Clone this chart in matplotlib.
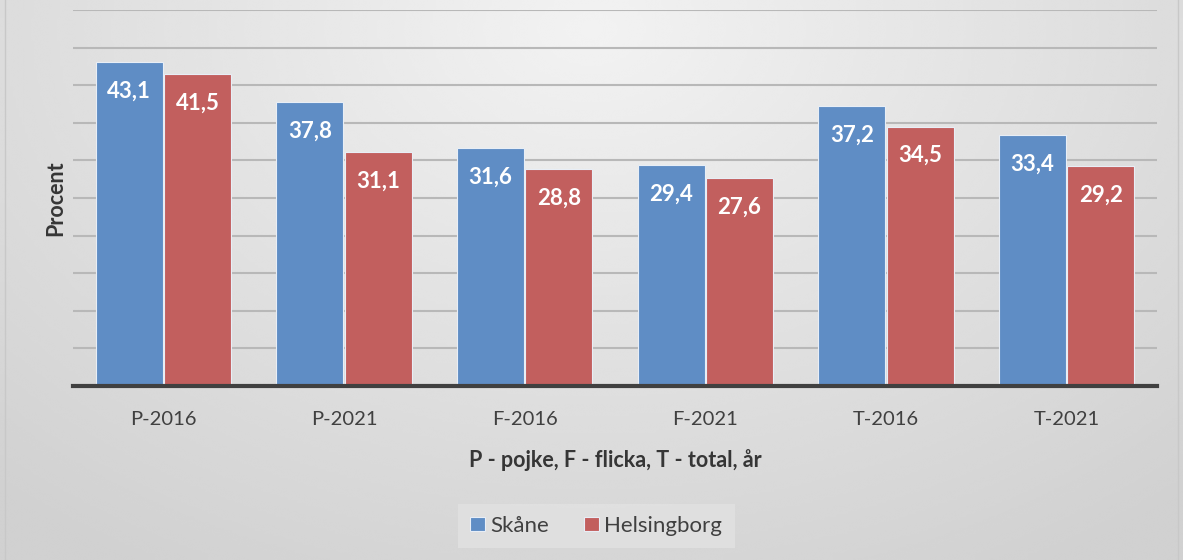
import numpy as np
import matplotlib.pyplot as plt
from matplotlib.patches import Rectangle

categories = ['P-2016', 'P-2021', 'F-2016', 'F-2021', 'T-2016', 'T-2021']
skane = [43.1, 37.8, 31.6, 29.4, 37.2, 33.4]
helsingborg = [41.5, 31.1, 28.8, 27.6, 34.5, 29.2]
series_names = ['Skåne', 'Helsingborg']

plt.rcParams['font.family'] = ['Lato', 'DejaVu Sans']

fig = plt.figure(figsize=(11.83, 5.6), dpi=100)

# gradient background (light centre top, darker edges)
bg = fig.add_axes([0, 0, 1, 1], zorder=-10)
yy, xx = np.mgrid[0:1:200j, 0:1:400j]
dist = np.sqrt(((xx - 0.5) / 0.75) ** 2 + ((yy - 0.05) / 1.1) ** 2)
shade = 0.95 - 0.13 * np.clip(dist, 0, 1)
bg.imshow(shade, cmap='gray', vmin=0, vmax=1, aspect='auto',
          extent=[0, 1, 1, 0], interpolation='bicubic')
bg.add_patch(Rectangle((0.004, -0.01), 0.992, 1.02, fill=False,
                       edgecolor='#c8c8c8', linewidth=1))
bg.set_xlim(0, 1)
bg.set_ylim(1, 0)
bg.axis('off')

ax = fig.add_axes([0.0617, 0.3107, 0.9163, 0.6713])
ax.patch.set_alpha(0)

x = np.arange(len(categories))
w = 0.372
colors = ['#5f8dc5', '#c25f5e']
for i, (vals, name) in enumerate(zip([skane, helsingborg], series_names)):
    pos = x + (i - 0.5) * (w + 0.006)
    bars = ax.bar(pos, vals, width=w, color=colors[i], edgecolor='#e8eef6',
                  linewidth=0.8, label=name, zorder=3)
    for b, v in zip(bars, vals):
        ax.annotate(f'{v:.1f}'.replace('.', ','),
                    (b.get_x() + b.get_width() / 2, v),
                    xytext=(0, -29), textcoords='offset pixels',
                    ha='center', va='center', color='white',
                    fontsize=16, fontweight='bold', zorder=4)

ax.set_xlim(-0.5, len(categories) - 0.5)
ax.set_ylim(0, 50)
ax.set_yticks(np.arange(0, 51, 5))
ax.set_yticklabels([])
ax.tick_params(axis='y', length=0)
ax.tick_params(axis='x', length=0, pad=18, labelsize=14.5, labelcolor='#404040')
ax.set_xticks(x)
ax.set_xticklabels(categories)
ax.yaxis.grid(True, color='#b8b8b8', linewidth=1.5, zorder=0)
ax.set_axisbelow(True)
for s in ['top', 'right', 'left']:
    ax.spines[s].set_visible(False)
ax.spines['bottom'].set_color('#404040')
ax.spines['bottom'].set_linewidth(3)
ax.spines['bottom'].set_zorder(5)

ax.set_xlabel('P - pojke, F - flicka, T - total, år', fontsize=15.5,
              fontweight='bold', color='#363636', labelpad=15)
ax.set_ylabel('Procent', fontsize=15.5, fontweight='bold', color='#363636',
              labelpad=1)

leg = fig.legend(loc='center', bbox_to_anchor=(0.504, 0.061), ncol=2,
                 frameon=True, fontsize=16, handlelength=0.65,
                 handleheight=0.65, handletextpad=0.25, columnspacing=1.6,
                 borderpad=0.55, labelcolor='#404040')
leg.get_frame().set_facecolor('#e2e2e2')
leg.get_frame().set_edgecolor('none')
leg.get_frame().set_boxstyle('square', pad=0)

fig.savefig('out.png', dpi=100)
